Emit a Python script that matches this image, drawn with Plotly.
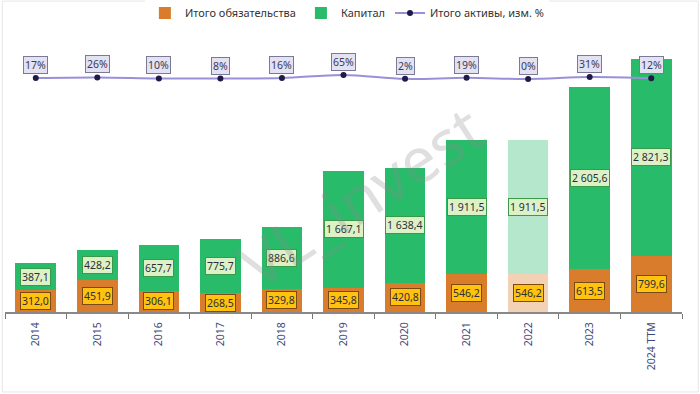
import plotly.graph_objects as go

years = ["2014", "2015", "2016", "2017", "2018", "2019", "2020", "2021", "2022", "2023", "2024 TTM"]
liabilities = [312.0, 451.9, 306.1, 268.5, 329.8, 345.8, 420.8, 546.2, 546.2, 613.5, 799.6]
capital = [387.1, 428.2, 657.7, 775.7, 886.6, 1667.1, 1638.4, 1911.5, 1911.5, 2605.6, 2821.3]
assets_chg = [17, 26, 10, 8, 16, 65, 2, 19, 0, 31, 12]
faded_year = "2022"

FONT = "Noto Sans"
ORANGE = "rgb(217,124,43)"
ORANGE_F = "rgba(217,124,43,0.35)"
GREEN = "rgb(40,187,106)"
GREEN_F = "rgba(40,187,106,0.35)"


def fmt(v):
    s = f"{v:,.1f}"
    return s.replace(",", " ").replace(".", ",")


fig = go.Figure()
fig.add_trace(go.Bar(
    x=years, y=liabilities, name="Итого обязательства",
    marker=dict(color=[ORANGE_F if y == faded_year else ORANGE for y in years], line=dict(width=0)),
))
fig.add_trace(go.Bar(
    x=years, y=capital, name="Капитал",
    marker=dict(color=[GREEN_F if y == faded_year else GREEN for y in years], line=dict(width=0)),
))
fig.add_trace(go.Scatter(
    x=years, y=assets_chg, name="Итого активы, изм. %", yaxis="y2",
    mode="lines+markers",
    line=dict(color="#9a90d8", width=2, shape="spline"),
    marker=dict(color="#1e1a4a", size=6),
))

ann = []
for i, (l, c, p) in enumerate(zip(liabilities, capital, assets_chg)):
    ann.append(dict(x=i, y=l / 2, xref="x", yref="y", text=fmt(l), showarrow=False,
                    font=dict(family=FONT, size=10.5, color="#2e2e3a"),
                    bgcolor="#ffc20e", bordercolor="#7a4a12", borderwidth=1, borderpad=1))
    ann.append(dict(x=i, y=l + c / 2, xref="x", yref="y", text=fmt(c), showarrow=False,
                    font=dict(family=FONT, size=10.5, color="#2e2e3a"),
                    bgcolor="#dcf2c6", bordercolor="#3a9a4a", borderwidth=1, borderpad=1))
    ann.append(dict(x=i, y=p, xref="x", yref="y2", text=f"{p}%", showarrow=False, yshift=13,
                    font=dict(family=FONT, size=10.5, color="#3a3a5a"),
                    bgcolor="#e2e2f2", bordercolor="#7a7a96", borderwidth=1, borderpad=1))

ann.append(dict(x=0.525, y=0.43, xref="paper", yref="paper", text="VL_invest", showarrow=False,
                textangle=-33, font=dict(family=FONT, size=63, color="rgba(140,140,140,0.28)")))

fig.update_layout(
    width=700, height=394,
    margin=dict(l=5, r=18, t=40, b=82, autoexpand=False),
    barmode="stack", bargap=0.34,
    plot_bgcolor="white", paper_bgcolor="white",
    font=dict(family=FONT, color="#333333"),
    showlegend=True,
    legend=dict(orientation="h", x=0.505, xanchor="center", y=1.099, yanchor="middle",
                font=dict(family=FONT, size=11, color="#333333"), traceorder="normal",
                itemwidth=30, tracegroupgap=0),
    xaxis=dict(type="category", tickson="boundaries", ticks="outside", ticklen=5,
               tickcolor="#777777", showline=True, linecolor="#888888", linewidth=2,
               tickangle=-90, tickfont=dict(family=FONT, size=10.5, color="#3d4a7c"),
               ticklabelstandoff=4,
               showgrid=False, range=[-0.5, 10.5], automargin=False),
    yaxis=dict(range=[0, 3886], visible=False, showgrid=False, fixedrange=True),
    yaxis2=dict(range=[-3788, 634], overlaying="y", visible=False, showgrid=False),
    annotations=ann,
    shapes=[dict(type="rect", xref="paper", yref="paper", x0=-0.004, x1=1.024, y0=-0.294, y1=1.143,
                 line=dict(color="#e6e6e6", width=1))],
)

fig.write_html("out.html", config={"displayModeBar": False},
               post_script="document.body.style.margin='0';")
